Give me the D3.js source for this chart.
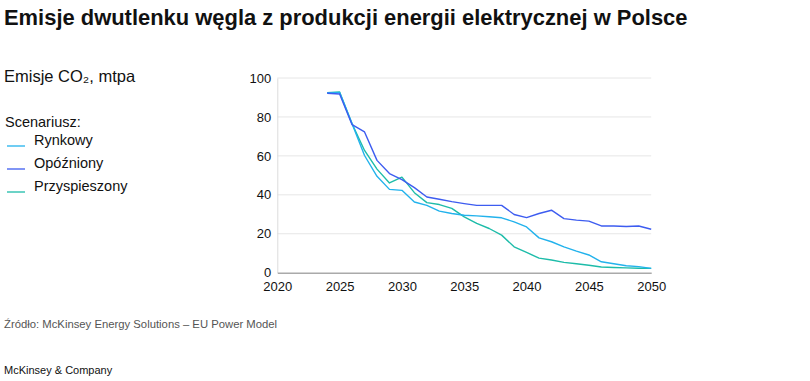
<!DOCTYPE html>
<html><head><meta charset="utf-8">
<script src="https://cdn.jsdelivr.net/npm/d3@7"></script>
<style>
body{margin:0;background:#fff;}
text{font-family:"Liberation Sans",Arial,sans-serif;}
</style></head>
<body><svg id="c" width="810" height="381"></svg>
<script>
const years = d3.range(2024, 2051);
const rynkowy = [92.5,92.5,76.5,60.2,49.5,42.8,42.3,36.3,34.6,31.6,30.4,29.5,29.2,28.7,28.2,26.1,23.5,17.9,15.9,13.3,11.1,9.1,5.6,4.6,3.6,3.1,2.2];
const opozniony = [92.2,91.8,76.0,72.3,57.7,50.9,47.8,43.7,38.9,37.7,36.5,35.5,34.6,34.6,34.6,29.9,28.3,30.4,32.1,27.8,27.0,26.5,24.0,24.0,23.7,24.0,22.3];
const przyspieszony = [92.5,92.8,76.5,62.8,53.2,46.1,49.1,41.1,36.0,35.0,33.0,28.7,25.3,22.7,19.3,13.3,10.4,7.5,6.5,5.3,4.6,3.8,2.9,2.7,2.5,2.3,2.2];
const seriesNames = ["Rynkowy","Opóźniony","Przyspieszony"];
const seriesColors = ["#22b2ec","#3d5cf0","#1dbca9"];
const yTicks = [0,20,40,60,80,100];
const xTicks = [2020,2025,2030,2035,2040,2045,2050];

const svg = d3.select("#c");
const x = d3.scaleLinear().domain([2020,2050]).range([277.3,651.2]);
const y = d3.scaleLinear().domain([0,100]).range([272.7,78]);

function fitText(sel, w){
  const n = sel.node(); const cur = n.getComputedTextLength();
  const fs = parseFloat(sel.attr("font-size"));
  sel.attr("font-size", fs*w/cur);
}
const t = svg.append("text").attr("x",4).attr("y",25).attr("font-size",20).attr("font-weight","bold").attr("fill","#111")
  .text("Emisje dwutlenku węgla z produkcji energii elektrycznej w Polsce");
fitText(t, 684);

svg.append("text").attr("x",4).attr("y",82).attr("font-size",16.5).attr("fill","#111").text("Emisje CO₂, mtpa");
svg.append("text").attr("x",5).attr("y",127).attr("font-size",14.5).attr("fill","#111").text("Scenariusz:");
seriesNames.forEach((n,i)=>{
  const yy = 146 + i*23;
  svg.append("line").attr("x1",7).attr("x2",25).attr("y1",yy).attr("y2",yy).attr("stroke",seriesColors[i]).attr("stroke-width",1.3);
  svg.append("text").attr("x",34).attr("y",yy-1).attr("font-size",14.5).attr("fill","#111").text(n);
});

const g = svg.append("g");
g.selectAll(".grid").data(yTicks.filter(d=>d>0)).join("line")
  .attr("x1",x(2020)).attr("x2",x(2050)).attr("y1",d=>y(d)).attr("y2",d=>y(d))
  .attr("stroke","#e6e6e6").attr("stroke-width",1);

const yAxis = d3.axisLeft(y).tickValues(yTicks).tickSize(0).tickPadding(6);
const ya = svg.append("g").attr("transform",`translate(${x(2020)},0)`).call(yAxis);
ya.select(".domain").attr("stroke","#dcdcdc");
ya.selectAll("text").attr("font-size",13).attr("fill","#111").attr("font-family","Liberation Sans, Arial, sans-serif");

const xAxis = d3.axisBottom(x).tickValues(xTicks).tickFormat(d3.format("d")).tickSize(0).tickPadding(9);
const xa = svg.append("g").attr("transform",`translate(0,${y(0)})`).call(xAxis);
xa.select(".domain").attr("stroke","#aaaaaa").attr("stroke-width",1.5);
xa.selectAll("text").attr("font-size",13).attr("fill","#111").attr("font-family","Liberation Sans, Arial, sans-serif");

const line = d3.line().x((d,i)=>x(years[i])).y(d=>y(d));
const data = [rynkowy, opozniony, przyspieszony];
[2,0,1].forEach(i=>{
  svg.append("path").datum(data[i]).attr("d",line).attr("fill","none")
    .attr("stroke",seriesColors[i]).attr("stroke-width",1.4).attr("stroke-linejoin","round");
});

svg.append("text").attr("x",4).attr("y",328).attr("font-size",11.3).attr("fill","#555").text("Źródło: McKinsey Energy Solutions – EU Power Model");
svg.append("text").attr("x",4).attr("y",374).attr("font-size",11).attr("fill","#111").text("McKinsey & Company");
</script></body></html>
